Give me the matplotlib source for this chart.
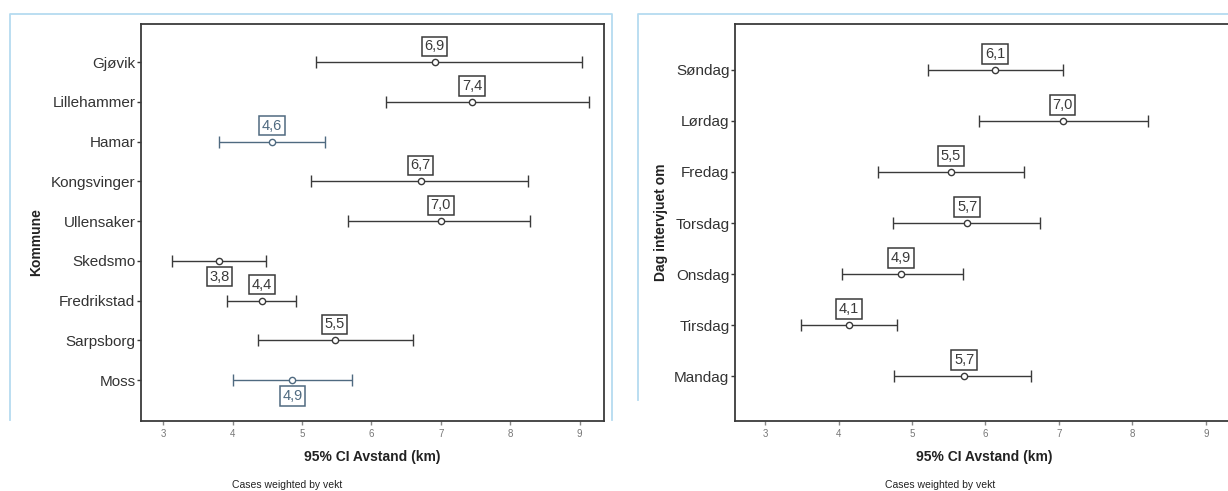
import matplotlib.pyplot as plt
import matplotlib.lines as mlines
import numpy as np

plt.rcParams['font.family'] = ['Liberation Sans', 'DejaVu Sans']

# Left panel: Kommune
kommuner = ['Gjøvik', 'Lillehammer', 'Hamar', 'Kongsvinger', 'Ullensaker',
            'Skedsmo', 'Fredrikstad', 'Sarpsborg', 'Moss']
k_mean = [6.91, 7.45, 4.57, 6.71, 7.00, 3.81, 4.42, 5.47, 4.86]
k_low = [5.20, 6.21, 3.81, 5.13, 5.66, 3.13, 3.92, 4.37, 4.01]
k_high = [9.03, 9.13, 5.33, 8.25, 8.29, 4.48, 4.91, 6.60, 5.72]
k_labels = ['6,9', '7,4', '4,6', '6,7', '7,0', '3,8', '4,4', '5,5', '4,9']
k_below = [False, False, False, False, False, True, False, False, True]
k_blue = [False, False, True, False, False, False, False, False, True]

# Right panel: Dag intervjuet om
dager = ['Søndag', 'Lørdag', 'Fredag', 'Torsdag', 'Onsdag', 'Tirsdag', 'Mandag']
d_mean = [6.13, 7.05, 5.53, 5.75, 4.85, 4.14, 5.71]
d_low = [5.22, 5.91, 4.54, 4.74, 4.05, 3.49, 4.76]
d_high = [7.05, 8.21, 6.52, 6.74, 5.69, 4.80, 6.62]
d_labels = ['6,1', '7,0', '5,5', '5,7', '4,9', '4,1', '5,7']

xticks = [3, 4, 5, 6, 7, 8, 9]

dark = '#3a3a3a'
blue = '#4f6a80'
frame_blue = '#b5dbf0'

fig = plt.figure(figsize=(12.28, 4.91), dpi=100)


def frame(x0, x1, ytop, ybot):
    # light blue screenshot frame (no bottom edge visible)
    xs = [x0 / 1228, x0 / 1228, x1 / 1228, x1 / 1228]
    ys = [1 - ybot / 491, 1 - ytop / 491, 1 - ytop / 491, 1 - ybot / 491]
    fig.add_artist(mlines.Line2D(xs, ys, transform=fig.transFigure,
                                 color=frame_blue, lw=1.3))


frame(10, 612, 14, 420)
frame(638, 1240, 14, 400)


def draw_panel(ax, cats, mean, low, high, labels, below, blues, ylim, xlim, ylabel):
    y = np.arange(len(cats))
    for i in range(len(cats)):
        c = blue if blues[i] else dark
        ax.errorbar(mean[i], y[i], xerr=[[mean[i] - low[i]], [high[i] - mean[i]]],
                    fmt='o', ms=4.5, mfc='white', mec=c, mew=1.0, ecolor=c,
                    elinewidth=1.0, capsize=4, capthick=1.0, color=c)
        off = -11.5 if below[i] else 11.5
        ax.annotate(labels[i], (mean[i], y[i]), xytext=(0, off),
                    textcoords='offset points', ha='center', va='center',
                    fontsize=10.5, color=c,
                    bbox=dict(boxstyle='square,pad=0.18', fc='white', ec=c, lw=1.1))
    ax.set_yticks(y)
    ax.set_yticklabels(cats, fontsize=11, color='#333333')
    ax.set_ylim(*ylim)
    ax.set_xlim(*xlim)
    ax.set_xticks(xticks)
    ax.set_xticklabels([str(t) for t in xticks], fontsize=7, color='#777777')
    ax.tick_params(axis='y', length=3, width=1, color=dark, pad=1)
    ax.tick_params(axis='x', length=3, width=1, color='#888888', pad=3)
    for s in ax.spines.values():
        s.set_color(dark)
        s.set_linewidth(1.3)
    ax.set_xlabel('95% CI Avstand (km)', fontsize=10, fontweight='bold',
                  color='#222222', labelpad=8)
    ax.set_ylabel(ylabel, fontsize=10, fontweight='bold', color='#222222')


ax1 = fig.add_axes([141 / 1228, 1 - 421 / 491, 463 / 1228, 397 / 491])
draw_panel(ax1, kommuner, k_mean, k_low, k_high, k_labels, k_below, k_blue,
           (9.03, -0.96), (2.68, 9.35), 'Kommune')
ax1.yaxis.set_label_coords(-0.212, 0.45)

ax2 = fig.add_axes([735 / 1228, 1 - 421 / 491, 498 / 1228, 397 / 491])
draw_panel(ax2, dager, d_mean, d_low, d_high, d_labels, [False] * 7, [False] * 7,
           (6.88, -0.9), (2.59, 9.37), 'Dag intervjuet om')
ax2.yaxis.set_label_coords(-0.135, 0.5)

fig.text(287 / 1228, 1 - 485 / 491, 'Cases weighted by vekt', ha='center', va='center',
         fontsize=7.5, color='#222222')
fig.text(940 / 1228, 1 - 485 / 491, 'Cases weighted by vekt', ha='center', va='center',
         fontsize=7.5, color='#222222')

fig.savefig('out.png', dpi=100)
